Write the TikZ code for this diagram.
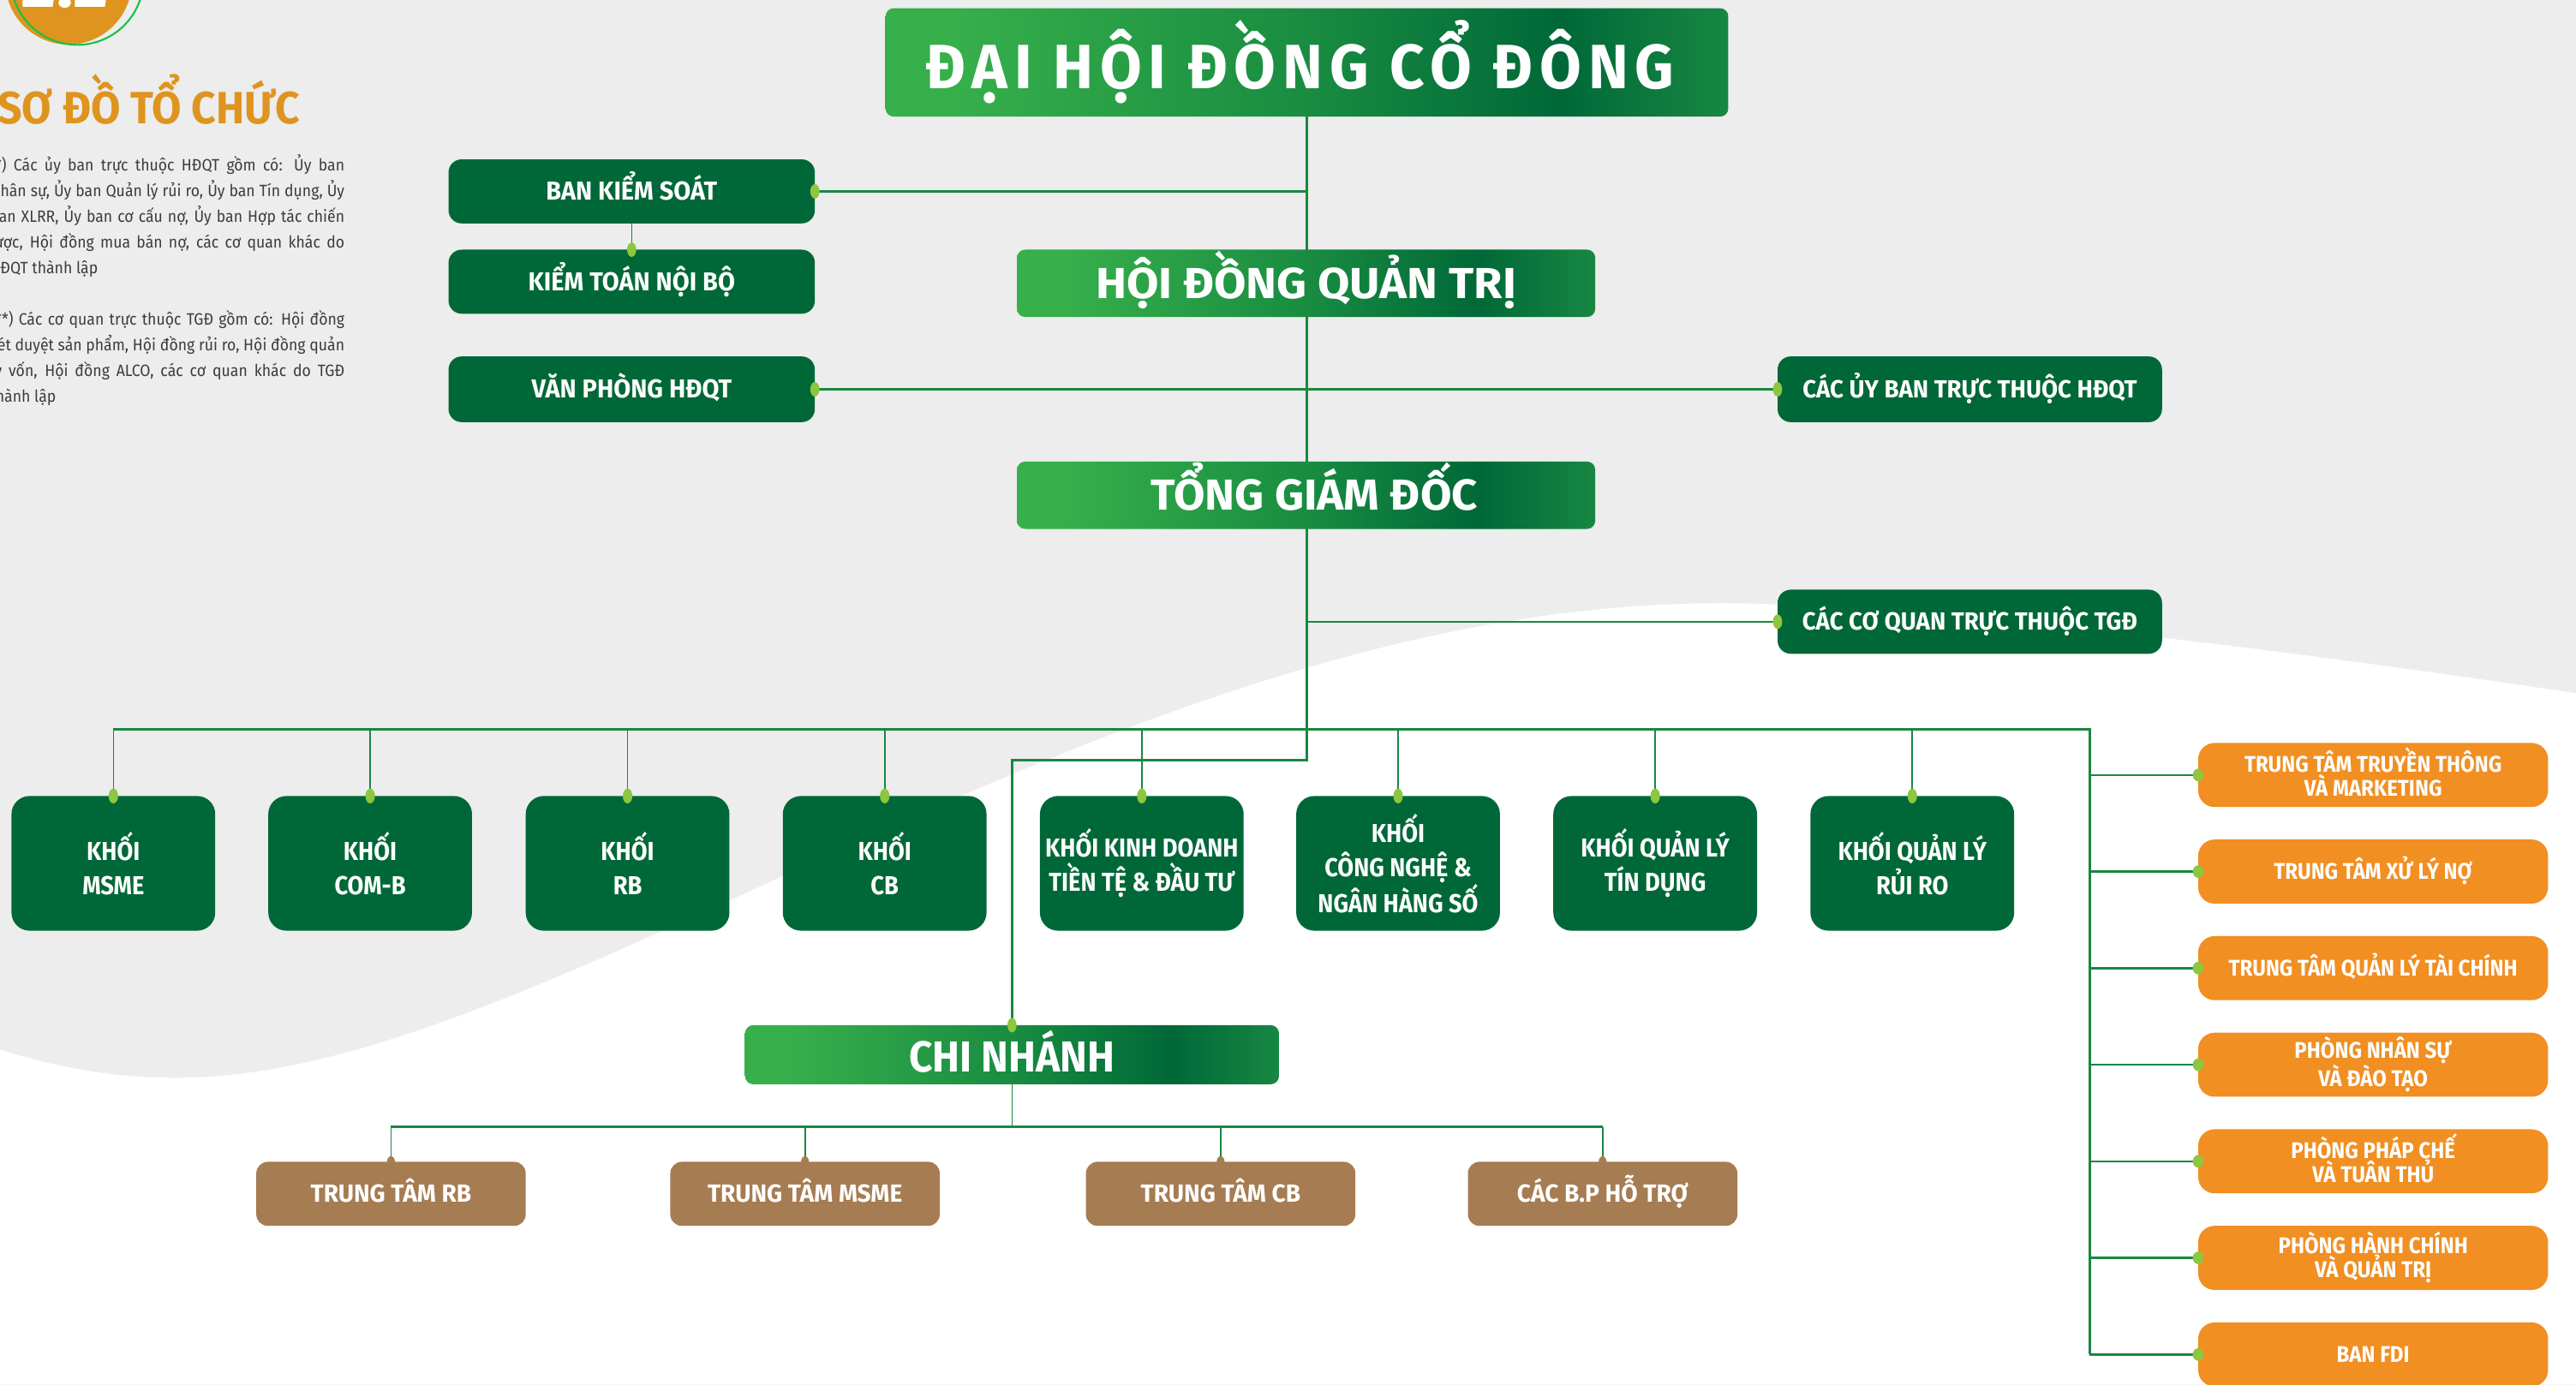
\documentclass[tikz,border=0pt]{standalone}
\usepackage{fontspec}
\usepackage{graphicx}
\setmainfont{Fira Sans}
\newfontfamily\labfont[FakeStretch=0.9]{Fira Sans}
\newfontfamily\gfont[FakeStretch=0.955]{Fira Sans}
\newfontfamily\bfont[FakeStretch=0.97]{Fira Sans}
\newfontfamily\headfont[FakeStretch=0.8]{Fira Sans}
\newfontfamily\headsp[FakeStretch=0.72,LetterSpace=8.0]{Fira Sans}
\newfontfamily\orfont[FakeStretch=0.91]{Fira Sans}
\newfontfamily\parfont[FakeStretch=0.92]{Fira Sans}

\definecolor{bggray}{RGB}{236,237,236}
\definecolor{dkgreen}{RGB}{0,104,56}
\definecolor{gl}{RGB}{55,175,75}
\definecolor{gm}{RGB}{25,140,65}
\definecolor{gd}{RGB}{0,104,56}
\definecolor{gr}{RGB}{24,135,66}
\definecolor{orng}{RGB}{241,143,34}
\definecolor{brwn}{RGB}{166,124,82}
\definecolor{dotg}{RGB}{141,198,63}
\definecolor{lng}{RGB}{25,135,65}
\definecolor{ttl}{RGB}{222,148,30}
\definecolor{paratxt}{RGB}{60,60,60}
\definecolor{ring}{RGB}{20,195,70}

\pgfdeclarehorizontalshading{hgrad}{100bp}{color(0bp)=(gl); color(29bp)=(gl); color(50bp)=(gm); color(65bp)=(gd); color(75bp)=(gr); color(100bp)=(gr)}

\pgfdeclarelayer{back}
\pgfdeclarelayer{lines}
\pgfsetlayers{back,lines,main}

\newcommand\fitcap[3]{\resizebox{#1}{#2}{\setbox0=\hbox{#3}\ht0=\fontcharht\font`H\dp0=0pt\box0}}
\newcommand\jl[1]{\makebox[215.7pt][s]{#1}}

\tikzset{
  every node/.style={inner sep=0pt, outer sep=0pt},
  gradbox/.style={rectangle, rounded corners=5pt, shade, shading=hgrad, text=white},
  gbox/.style={rectangle, rounded corners=8pt, fill=dkgreen, text=white, align=center,
    minimum width=223pt, minimum height=39pt, text height=10.9pt, text depth=0pt,
    font=\gfont\bfseries\fontsize{15.8}{18}\selectfont},
  sidebox/.style={gbox, minimum width=234pt, text height=10.4pt, font=\gfont\bfseries\fontsize{15.1}{18}\selectfont},
  kbox/.style={rectangle, rounded corners=11pt, fill=dkgreen, text=white, align=center,
    minimum width=124pt, minimum height=82pt, execute at begin node={\rule{0pt}{22pt}},
    font=\labfont\bfseries\fontsize{15.8}{20.9}\selectfont},
  obox/.style={rectangle, rounded corners=10pt, fill=orng, text=white, align=center,
    minimum width=213pt, minimum height=39pt, font=\orfont\bfseries\fontsize{13.8}{14.2}\selectfont},
  oone/.style={obox, text height=9.5pt, text depth=0pt},
  otwo/.style={obox, execute at end node={\rule[-4pt]{0pt}{0pt}}},
  bbox/.style={rectangle, rounded corners=7pt, fill=brwn, text=white, align=center,
    minimum width=164pt, minimum height=39pt, text height=10.4pt, text depth=0pt,
    font=\bfont\bfseries\fontsize{15.1}{18}\selectfont},
  mainln/.style={draw=lng, line width=1.6pt},
  sideln/.style={draw=lng, line width=1.3pt},
  thinln/.style={draw=lng, line width=0.85pt},
  partxt/.style={anchor=base west, text=paratxt, font=\parfont\fontsize{10}{12}\selectfont},
  gdot/.style={fill=dotg},
}

\begin{document}
\begin{tikzpicture}[x=1pt,y=-1pt]
\useasboundingbox (0,0) rectangle (1568,843);
\clip (0,0) rectangle (1568,843);
\begin{pgfonlayer}{back}
\fill[bggray] (0,0) rectangle (1568,843);
\fill[white] (0,639) .. controls (30,648) and (66,657.3) .. (116,656)
  .. controls (350,650) and (700,350) .. (1081,368)
  .. controls (1233,375) and (1420,400) .. (1568,422)
  -- (1568,843) -- (0,843) -- cycle;
\end{pgfonlayer}

% logo
\fill[ttl] (41.7,-11.4) circle (38.5pt);
\draw[ring, line width=1.1pt] (47,-13.1) circle (40.4pt);
\node[anchor=base, text=white, font=\headfont\bfseries] (num) at (39.5,4.3) {\fitcap{53pt}{24pt}{2.2}};

% title
\node[anchor=base west, text=ttl, font=\headfont\bfseries] (title) at (-1.5,75.6) {\fitcap{184pt}{19.1pt}{SƠ ĐỒ TỔ CHỨC}};

% notes
\node[partxt] (p1) at (-6,103.9) {\jl{(*) Các ủy ban trực thuộc HĐQT gồm có: Ủy ban}};
\node[partxt] (p2) at (-6,119.5) {\jl{Nhân sự, Ủy ban Quản lý rủi ro, Ủy ban Tín dụng, Ủy}};
\node[partxt] (p3) at (-6,135.2) {\jl{ban XLRR, Ủy ban cơ cấu nợ, Ủy ban Hợp tác chiến}};
\node[partxt] (p4) at (-6,150.8) {\jl{lược, Hội đồng mua bán nợ, các cơ quan khác do}};
\node[partxt] (p5) at (-6,166.5) {HĐQT thành lập};
\node[partxt] (p6) at (-6,197.8) {\jl{(**) Các cơ quan trực thuộc TGĐ gồm có: Hội đồng}};
\node[partxt] (p7) at (-6,213.4) {\jl{xét duyệt sản phẩm, Hội đồng rủi ro, Hội đồng quản}};
\node[partxt] (p8) at (-6,229.1) {\jl{lý vốn, Hội đồng ALCO, các cơ quan khác do TGĐ}};
\node[partxt] (p9) at (-6,244.7) {thành lập};

% main gradient boxes
\node[gradbox, minimum width=513pt, minimum height=66pt, font=\headsp\bfseries] (dhdcd) at (795.5,38)
  {\raisebox{-3pt}[26.4pt][0pt]{\hspace*{-8.4pt}\fitcap{455.5pt}{26.4pt}{ĐẠI HỘI ĐỒNG CỔ ĐÔNG}}};
\node[gradbox, minimum width=352pt, minimum height=41pt, font=\headfont\bfseries] (hdqt) at (795,172.5)
  {\fitcap{256pt}{18.3pt}{HỘI ĐỒNG QUẢN TRỊ}};
\node[gradbox, minimum width=352pt, minimum height=41pt, font=\headfont\bfseries] (tgd) at (795,301.5)
  {\hspace*{10pt}\fitcap{199pt}{18.3pt}{TỔNG GIÁM ĐỐC}};
\node[gradbox, minimum width=325pt, minimum height=36pt, font=\headfont\bfseries] (cn) at (616,642.1)
  {\raisebox{-1.5pt}[18.3pt][0pt]{\fitcap{125.4pt}{18.3pt}{CHI NHÁNH}}};

% side boxes
\node[gbox] (bks) at (384.5,116.5) {BAN KIỂM SOÁT};
\node[gbox] (ktnb) at (384.5,171.5) {KIỂM TOÁN NỘI BỘ};
\node[gbox, minimum height=40pt] (vp) at (384.5,237) {VĂN PHÒNG HĐQT};
\node[sidebox, minimum height=40pt] (ub) at (1199,237) {CÁC ỦY BAN TRỰC THUỘC HĐQT};
\node[sidebox] (cq) at (1199,378.5) {CÁC CƠ QUAN TRỰC THUỘC TGĐ};

% khoi boxes
\node[kbox] (k1) at (69,525.6) {KHỐI\\MSME};
\node[kbox] (k2) at (225.3,525.6) {KHỐI\\COM-B};
\node[kbox] (k3) at (382,525.6) {KHỐI\\RB};
\node[kbox] (k4) at (538.5,525.6) {KHỐI\\CB};
\node[kbox] (k5) at (695,525.6) {KHỐI KINH DOANH\\TIỀN TỆ \& ĐẦU TƯ};
\node[kbox] (k6) at (851,525.6) {KHỐI\\CÔNG NGHỆ \&\\NGÂN HÀNG SỐ};
\node[kbox] (k7) at (1007.5,525.6) {KHỐI QUẢN LÝ\\TÍN DỤNG};
\node[kbox] (k8) at (1164,525.6) {KHỐI QUẢN LÝ\\RỦI RO};

% orange boxes
\node[otwo] (o1) at (1444.5,471.8) {TRUNG TÂM TRUYỀN THÔNG\\VÀ MARKETING};
\node[oone] (o2) at (1444.5,530.6) {TRUNG TÂM XỬ LÝ NỢ};
\node[oone] (o3) at (1444.5,589.4) {TRUNG TÂM QUẢN LÝ TÀI CHÍNH};
\node[otwo] (o4) at (1444.5,648.2) {PHÒNG NHÂN SỰ\\VÀ ĐÀO TẠO};
\node[otwo] (o5) at (1444.5,707) {PHÒNG PHÁP CHẾ\\VÀ TUÂN THỦ};
\node[otwo] (o6) at (1444.5,765.8) {PHÒNG HÀNH CHÍNH\\VÀ QUẢN TRỊ};
\node[oone] (o7) at (1444.5,824.6) {BAN FDI};

% brown boxes
\node[bbox] (t1) at (238,726.8) {TRUNG TÂM RB};
\node[bbox] (t2) at (490,726.8) {TRUNG TÂM MSME};
\node[bbox] (t3) at (743,726.8) {TRUNG TÂM CB};
\node[bbox] (t4) at (975.5,726.8) {CÁC B.P HỖ TRỢ};

% connectors
\coordinate (busR) at (1272,444);
\coordinate (cbus) at (616,686);
\begin{pgfonlayer}{lines}
\draw[mainln] (dhdcd.south) -- (dhdcd.south |- 0,463) coordinate (tb) -- (cn.north |- tb) -- (cn.north);
\draw[sideln] (bks.east) -- (bks.east -| dhdcd.south);
\draw[thinln] (bks.south) -- (ktnb.north);
\draw[sideln] (vp.east) -- (ub.west);
\draw[sideln] (cq.west) -- (cq.west -| tgd.south);
\draw[mainln] (k1.north |- busR) -- (busR) -- (busR |- o7.west);
\foreach \i in {1,...,8} \draw[thinln] (k\i.north |- busR) -- (k\i.north);
\foreach \i in {1,...,7} \draw[sideln] (busR |- o\i.west) -- (o\i.west);
\draw[thinln] (cn.south) -- (cn.south |- cbus);
\draw[mainln] (t1.north |- cbus) -- (t4.north |- cbus);
\foreach \i in {1,...,4} \draw[thinln] (t\i.north |- cbus) -- (t\i.north);
\end{pgfonlayer}

% connection dots
\foreach \i in {1,...,8} \fill[gdot] (k\i.north) ellipse [x radius=2.9pt, y radius=4.5pt];
\fill[gdot] (ktnb.north) ellipse [x radius=2.8pt, y radius=4.4pt];
\fill[gdot] (cn.north) ellipse [x radius=2.8pt, y radius=4.4pt];
\fill[gdot] (bks.east) ellipse [x radius=2.8pt, y radius=4.4pt];
\fill[gdot] (vp.east) ellipse [x radius=2.8pt, y radius=4.4pt];
\fill[gdot] (ub.west) ellipse [x radius=2.8pt, y radius=4.4pt];
\fill[gdot] (cq.west) ellipse [x radius=2.8pt, y radius=4.4pt];
\foreach \i in {1,...,7} \fill[gdot] (o\i.west) ellipse [x radius=3.3pt, y radius=3.8pt];
\foreach \i in {1,...,4} \fill[brwn] (t\i.north) ellipse [x radius=2.4pt, y radius=3.4pt];
\end{tikzpicture}
\end{document}
